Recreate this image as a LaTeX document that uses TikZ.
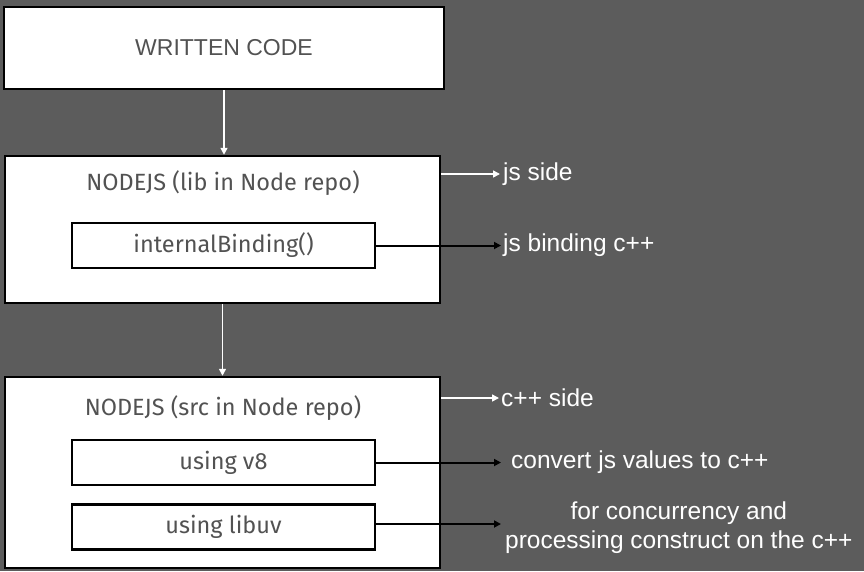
\documentclass[tikz,border=0pt]{standalone}
\usepackage{fontspec}
\setmainfont{Liberation Sans}
\newfontfamily\hand{Fira Sans}
\usetikzlibrary{arrows.meta}
\definecolor{bg}{RGB}{92,92,92}
\definecolor{txt}{RGB}{82,82,82}
\tikzset{
  box/.style={draw=black, line width=2.5pt, fill=white, inner sep=0pt, text=txt},
  titletxt/.style={text=txt, font=\hand\fontsize{23.5}{28}\selectfont, inner sep=0pt},
  innertxt/.style={font=\hand\fontsize{23.5}{28}\selectfont},
  lbl/.style={text=white, font=\fontsize{24.5}{29}\selectfont, inner sep=2pt, anchor=west},
  warrow/.style={draw=white, line width=1.5pt, -{Triangle[length=7pt,width=7pt]}},
  barrow/.style={draw=black, line width=2pt, -{Triangle[length=7pt,width=7pt]}}
}
\begin{document}
\begin{tikzpicture}[x=1pt,y=-1pt]
\fill[bg] (0,0) rectangle (864,571);
\useasboundingbox (0,0) rectangle (864,571);
% boxes
\node[box, minimum width=440pt, minimum height=82pt, font=\fontsize{23}{27}\selectfont] (wc) at (224,48) {WRITTEN CODE};
\node[box, minimum width=435pt, minimum height=147pt] (lib) at (222.5,229.5) {};
\node[titletxt] (libt) at (223,183) {NODEJS (lib in Node repo)};
\node[box, minimum width=303pt, minimum height=45pt, innertxt] (ib) at (223.5,245.5) {internalBinding()};
\node[box, minimum width=435pt, minimum height=191pt] (src) at (222.5,472.5) {};
\node[titletxt] (srct) at (223,408) {NODEJS (src in Node repo)};
\node[box, minimum width=303pt, minimum height=45pt, innertxt] (v8) at (223.5,462.5) {using v8};
\node[box, minimum width=303pt, minimum height=45pt, innertxt] (uv) at (223.5,527) {using libuv};
% labels
\node[lbl] (jsside) at (501,174) {js side};
\node[lbl] (jsbind) at (501,245) {js binding c++};
\node[lbl] (cside) at (499,398) {c++ side};
\node[lbl] (conv) at (509,462) {convert js values to c++};
\node[lbl, align=center] (conc) at (503,528) {for concurrency and\\processing construct on the c++};
% connectors
\draw[warrow] (wc.south) -- (wc.south |- lib.north);
\draw[warrow] (lib.south) -- (lib.south |- src.north);
\draw[warrow] (jsside.west -| lib.east) -- ([xshift=-1pt]jsside.west);
\draw[warrow] (cside.west -| src.east) -- (cside.west);
\draw[barrow] (ib.east) -- (ib.east -| jsbind.west);
\draw[barrow] (v8.east) -- (v8.east -| jsbind.west);
\draw[barrow] ([yshift=3pt]uv.east) -- ([yshift=3pt]uv.east -| jsbind.west);
\end{tikzpicture}
\end{document}
